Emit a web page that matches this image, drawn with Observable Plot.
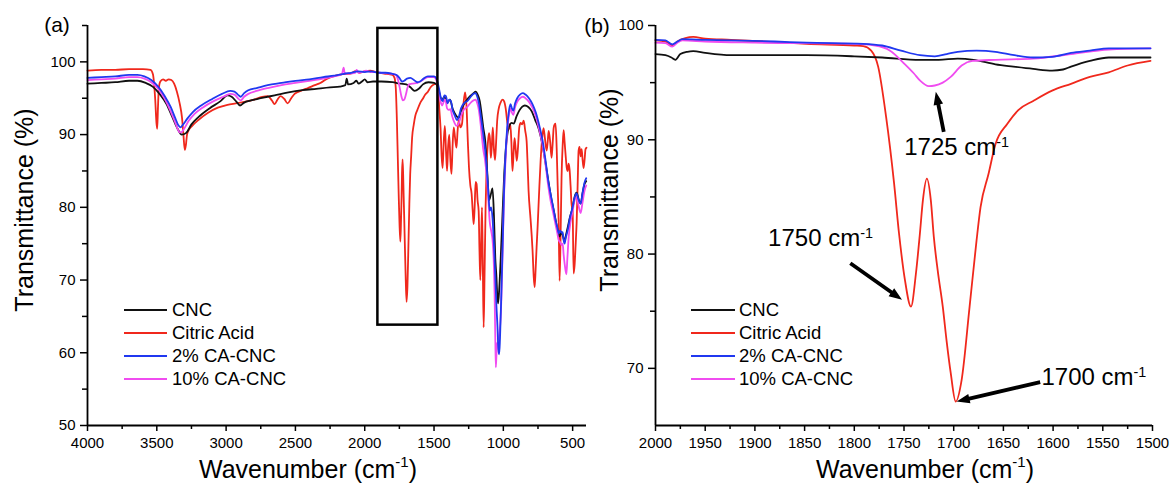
<!DOCTYPE html>
<html><head><meta charset="utf-8">
<script src="https://cdn.jsdelivr.net/npm/d3@7"></script>
<script src="https://cdn.jsdelivr.net/npm/@observablehq/plot@0.6"></script>
<style>
html,body{margin:0;padding:0;background:#fff;}
#fig{position:relative;width:1172px;height:489px;overflow:hidden;font-family:"Liberation Sans",Arial,Helvetica,sans-serif;color:#000;background:#fff;}
#fig svg{position:absolute;top:0;max-width:none;overflow:visible;background:transparent;}
.t{position:absolute;white-space:nowrap;line-height:1;}
.sup{font-size:0.6em;position:relative;top:-0.75em;}
.lg{position:absolute;white-space:nowrap;line-height:1;font-size:18.5px;}
.ln{position:absolute;height:0;border-top-width:2.5px;border-top-style:solid;}
</style></head><body><div id="fig"></div>
<script>
// ---------- series ----------
const seriesNames = ["CNC", "Citric Acid", "2% CA-CNC", "10% CA-CNC"];
const seriesColors = ["#111111", "#f0281c", "#2038f0", "#f04cf0"];

// ---------- panel (a): full spectrum ----------
const cncA = [[4000,97.0],[3900,97.1],[3800,97.2],[3700,97.4],[3640,97.4],[3580,97.1],[3530,96.6],[3480,95.6],[3430,94.2],[3390,92.5],[3350,90.8],[3320,90.0],[3290,90.2],[3250,91.4],[3200,92.4],[3120,93.6],[3040,94.6],[2990,95.4],[2960,95.2],[2925,94.5],[2900,94.0],[2870,94.4],[2820,94.7],[2750,95.0],[2650,95.4],[2550,95.8],[2450,96.1],[2350,96.3],[2250,96.5],[2180,96.6],[2140,96.8],[2130,97.7],[2120,96.9],[2080,97.1],[2060,97.4],[2045,97.0],[2020,97.3],[2000,97.6],[1980,97.2],[1940,97.3],[1880,97.3],[1800,97.2],[1740,97.0],[1700,96.9],[1670,96.5],[1640,96.0],[1610,96.3],[1580,96.9],[1540,97.2],[1500,97.1],[1475,96.7],[1455,95.2],[1440,94.8],[1425,95.2],[1405,94.4],[1385,94.8],[1365,93.5],[1340,92.6],[1320,92.3],[1300,93.6],[1270,94.6],[1240,95.3],[1215,95.7],[1200,95.9],[1185,95.5],[1170,94.6],[1158,93.0],[1145,91.0],[1130,89.0],[1115,84.5],[1102,81.0],[1090,81.8],[1078,82.6],[1068,79.0],[1058,73.0],[1050,70.5],[1044,68.0],[1038,66.8],[1030,68.6],[1020,72.5],[1008,78.0],[995,84.0],[982,88.0],[968,90.4],[955,91.3],[940,91.6],[925,91.5],[905,92.5],[885,93.3],[865,93.8],[845,94.0],[820,93.8],[795,93.2],[770,92.0],[745,90.8],[720,88.8],[695,86.0],[670,83.0],[650,80.8],[630,79.0],[610,77.0],[595,76.0],[580,76.6],[568,75.9],[558,75.3],[548,76.2],[536,77.2],[520,78.6],[500,80.0],[485,81.5],[471,82.0],[455,81.0],[442,80.5],[428,82.0],[414,83.2],[402,83.6]];

const citricA = [[4000,98.8],[3900,98.9],[3800,98.9],[3700,99.0],[3600,99.0],[3545,98.9],[3528,98.3],[3512,95.0],[3502,91.5],[3497,90.8],[3492,93.5],[3485,96.5],[3475,97.3],[3455,97.6],[3435,97.4],[3415,97.6],[3395,97.5],[3375,97.0],[3355,95.9],[3335,94.3],[3318,92.3],[3308,90.0],[3298,87.9],[3290,88.6],[3282,90.0],[3270,90.6],[3245,91.2],[3200,92.0],[3130,93.0],[3060,93.7],[2990,94.1],[2930,94.3],[2870,94.5],[2800,94.8],[2740,95.2],[2700,95.3],[2670,94.7],[2650,94.2],[2630,94.8],[2607,95.3],[2580,94.9],[2557,94.3],[2530,95.0],[2506,95.6],[2450,96.1],[2410,96.4],[2360,96.8],[2320,97.1],[2270,97.7],[2210,98.1],[2160,98.3],[2100,98.4],[2060,98.8],[2040,98.5],[2000,98.7],[1960,98.8],[1920,98.6],[1860,98.4],[1800,98.2],[1785,97.8],[1776,96.4],[1768,92.0],[1761,86.5],[1755,81.8],[1749,77.7],[1743,75.3],[1738,78.3],[1734,81.5],[1731,84.7],[1727,86.6],[1723,84.7],[1719,81.5],[1715,78.5],[1710,74.5],[1704,70.0],[1698,67.0],[1692,69.0],[1685,74.5],[1678,80.5],[1672,84.5],[1665,87.0],[1658,89.6],[1646,91.4],[1635,92.6],[1620,93.4],[1601,94.3],[1582,94.9],[1563,95.5],[1544,95.9],[1525,96.5],[1502,96.9],[1485,97.0],[1472,96.6],[1462,93.5],[1453,90.9],[1445,87.0],[1438,85.4],[1430,89.0],[1422,91.2],[1414,88.0],[1406,85.0],[1398,88.5],[1390,90.0],[1382,86.5],[1374,84.6],[1366,88.5],[1358,91.0],[1348,89.5],[1338,88.2],[1330,90.5],[1322,92.0],[1310,91.0],[1298,91.5],[1286,94.5],[1276,95.8],[1266,94.0],[1256,89.0],[1248,85.5],[1238,83.0],[1229,81.9],[1221,79.5],[1214,77.7],[1207,80.0],[1200,83.5],[1193,83.2],[1186,81.0],[1178,79.5],[1172,74.0],[1166,70.0],[1160,75.0],[1154,80.0],[1148,72.0],[1142,63.5],[1136,70.0],[1128,80.0],[1120,86.0],[1112,88.7],[1104,90.2],[1097,89.5],[1090,86.8],[1083,88.5],[1076,91.0],[1068,88.0],[1060,86.5],[1052,89.0],[1044,92.0],[1034,93.5],[1020,94.4],[1005,94.8],[995,94.6],[983,93.6],[970,91.5],[958,90.8],[950,91.5],[942,89.0],[934,85.0],[926,87.5],[919,89.5],[911,88.0],[903,86.4],[895,88.0],[885,91.0],[875,91.6],[864,91.4],[853,91.9],[842,90.5],[832,89.1],[825,86.0],[818,82.3],[804,78.5],[795,76.0],[789,74.0],[781,70.5],[774,69.0],[767,71.5],[760,74.5],[753,77.2],[742,82.0],[731,86.4],[720,89.5],[710,90.9],[700,89.5],[688,87.8],[680,89.0],[673,90.5],[662,89.0],[652,86.8],[645,88.5],[637,90.9],[630,91.4],[623,91.5],[615,88.0],[608,83.0],[601,78.2],[594,69.9],[587,76.0],[580,84.1],[572,88.5],[565,90.6],[558,89.0],[550,87.0],[543,85.5],[536,85.0],[529,86.0],[522,85.2],[515,83.0],[508,80.5],[500,79.5],[493,70.9],[486,72.0],[478,75.0],[471,78.0],[464,83.0],[457,87.8],[450,88.3],[442,87.0],[435,88.0],[428,86.5],[421,85.4],[414,86.5],[407,88.0],[400,88.2]];

const ca2A = [[4000,97.8],[3900,97.9],[3800,98.0],[3700,98.2],[3640,98.2],[3590,98.0],[3540,97.5],[3490,96.6],[3440,95.2],[3400,93.8],[3370,92.4],[3345,91.3],[3330,91.0],[3310,91.4],[3280,92.2],[3240,93.1],[3180,94.0],[3100,94.9],[3030,95.6],[2970,96.0],[2940,95.9],[2915,95.5],[2895,95.2],[2870,95.7],[2840,96.1],[2780,96.4],[2700,96.8],[2600,97.1],[2500,97.4],[2400,97.6],[2300,97.9],[2220,98.1],[2160,98.3],[2140,98.4],[2100,98.5],[2050,98.7],[2000,98.6],[1950,98.7],[1900,98.5],[1850,98.5],[1800,98.35],[1770,98.2],[1750,97.8],[1730,97.3],[1715,97.4],[1695,97.7],[1670,97.8],[1645,97.5],[1620,97.2],[1600,97.3],[1575,97.7],[1545,98.0],[1500,98.0],[1480,97.6],[1465,96.4],[1450,95.0],[1438,94.6],[1425,95.4],[1414,95.3],[1402,94.3],[1390,94.8],[1378,94.6],[1366,93.4],[1350,92.6],[1335,92.0],[1320,92.5],[1305,93.6],[1285,94.3],[1260,94.6],[1235,95.2],[1215,95.6],[1200,95.7],[1188,95.2],[1176,94.3],[1166,93.0],[1155,91.5],[1145,90.0],[1132,88.0],[1120,85.5],[1108,82.0],[1098,79.5],[1088,80.0],[1078,78.5],[1068,75.0],[1058,70.5],[1050,66.5],[1042,63.5],[1036,60.5],[1030,59.8],[1024,62.0],[1016,67.0],[1006,74.0],[996,81.5],[985,87.0],[972,91.0],[960,93.2],[948,94.2],[938,93.6],[928,93.3],[915,94.3],[900,95.0],[880,95.5],[860,95.7],[840,95.5],[815,95.0],[790,94.2],[765,93.0],[740,91.2],[715,89.0],[695,86.4],[675,83.5],[660,81.9],[640,80.0],[623,78.2],[610,77.2],[601,76.4],[590,76.8],[580,76.5],[572,76.6],[565,75.5],[558,75.0],[550,75.8],[543,76.3],[536,76.8],[520,78.5],[500,80.0],[485,81.4],[471,81.9],[460,81.2],[450,80.7],[442,80.5],[430,81.8],[414,83.4],[402,84.0]];

const ca10A = [[4000,97.5],[3900,97.6],[3800,97.7],[3700,97.9],[3640,97.9],[3590,97.7],[3540,97.2],[3490,96.3],[3440,94.8],[3400,93.2],[3370,91.8],[3350,90.8],[3335,90.3],[3318,90.4],[3300,90.9],[3270,91.9],[3230,92.8],[3170,93.7],[3090,94.6],[3020,95.2],[2970,95.6],[2940,95.5],[2915,95.0],[2895,94.7],[2870,95.2],[2840,95.6],[2780,96.0],[2700,96.4],[2600,96.8],[2500,97.1],[2400,97.4],[2300,97.7],[2220,98.0],[2165,98.3],[2152,99.2],[2144,98.4],[2110,98.4],[2070,98.5],[2058,98.9],[2045,98.5],[2020,98.6],[1990,98.8],[1960,98.6],[1920,98.6],[1880,98.5],[1820,98.4],[1779,98.25],[1764,97.8],[1749,96.6],[1736,95.3],[1725,94.7],[1715,94.8],[1703,95.5],[1692,96.4],[1681,96.9],[1660,97.0],[1620,97.1],[1582,97.5],[1545,97.9],[1500,97.9],[1482,97.4],[1468,96.0],[1455,94.7],[1442,94.0],[1430,94.5],[1418,94.8],[1406,93.6],[1394,93.4],[1382,93.5],[1370,92.6],[1352,91.6],[1338,91.2],[1322,91.5],[1305,92.6],[1285,93.4],[1260,93.8],[1235,94.4],[1215,94.7],[1200,94.8],[1188,94.3],[1176,93.3],[1166,91.8],[1155,89.8],[1145,88.0],[1132,86.5],[1120,84.3],[1108,81.0],[1098,78.0],[1088,76.8],[1078,75.5],[1070,73.0],[1063,68.0],[1058,62.0],[1054,58.0],[1049,60.0],[1044,61.3],[1037,61.5],[1030,62.5],[1022,64.0],[1014,67.5],[1005,74.0],[995,81.5],[984,86.5],[972,90.5],[960,92.6],[948,93.6],[938,93.0],[928,92.7],[915,93.8],[900,94.5],[880,95.0],[860,95.2],[840,95.0],[815,94.5],[790,93.7],[765,92.5],[740,90.6],[715,88.4],[695,85.8],[675,82.8],[660,81.0],[640,79.2],[623,77.6],[610,76.4],[601,75.5],[590,75.2],[580,74.8],[572,75.0],[565,73.5],[558,72.3],[550,71.2],[545,70.8],[538,73.0],[528,76.0],[515,78.0],[500,79.5],[485,81.0],[471,81.4],[460,80.5],[450,79.6],[442,79.2],[430,80.5],[414,82.3],[402,83.0]];

// ---------- panel (b): 2000-1500 zoom ----------
const cncB = [[2000,97.5],[1990,97.4],[1984,97.2],[1980,97.0],[1975,97.5],[1968,97.7],[1962,97.75],[1950,97.6],[1924,97.4],[1900,97.4],[1848,97.4],[1800,97.3],[1772,97.2],[1734,97.0],[1715,97.0],[1696,97.1],[1680,97.0],[1658,96.6],[1640,96.4],[1620,96.2],[1601,96.05],[1590,96.15],[1582,96.4],[1563,96.9],[1544,97.2],[1520,97.2],[1502,97.2]];
const citricB = [[2000,98.7],[1990,98.6],[1983,98.25],[1978,98.6],[1970,98.9],[1962,99.0],[1950,98.85],[1924,98.75],[1880,98.55],[1848,98.4],[1800,98.25],[1791,98.2],[1783,97.8],[1776,96.4],[1768,92.0],[1760,86.2],[1755,81.8],[1749,77.7],[1743,75.4],[1738,78.3],[1734,81.8],[1731,84.7],[1727,86.6],[1723,84.7],[1720,81.5],[1716,78.5],[1711,75.4],[1707,72.3],[1703,69.6],[1698,67.1],[1692,69.0],[1684,75.4],[1677,81.2],[1673,84.1],[1665,87.0],[1658,89.6],[1646,91.4],[1635,92.6],[1620,93.4],[1601,94.3],[1582,94.9],[1563,95.5],[1544,95.9],[1525,96.5],[1502,96.9]];
const ca2B = [[2000,98.75],[1990,98.7],[1983,98.35],[1978,98.6],[1973,98.8],[1950,98.75],[1924,98.7],[1880,98.6],[1848,98.5],[1791,98.4],[1772,98.25],[1753,97.8],[1734,97.4],[1719,97.3],[1707,97.5],[1696,97.7],[1677,97.8],[1658,97.7],[1639,97.4],[1620,97.2],[1601,97.25],[1582,97.6],[1563,97.8],[1544,98.0],[1502,98.0]];
const ca10B = [[2000,98.5],[1990,98.45],[1983,98.15],[1978,98.5],[1973,98.7],[1950,98.6],[1900,98.5],[1800,98.4],[1779,98.25],[1764,97.8],[1749,96.6],[1740,95.8],[1734,95.2],[1725,94.7],[1719,94.75],[1711,95.0],[1703,95.5],[1692,96.5],[1681,96.9],[1658,97.0],[1620,97.1],[1582,97.5],[1544,97.9],[1502,98.0]];

// ---------- axes / ticks ----------
const xDomA = [4000, 400], yDomA = [50, 105];
const xMajorA = [4000, 3500, 3000, 2500, 2000, 1500, 1000, 500];
const xMinorA = [3750, 3250, 2750, 2250, 1750, 1250, 750];
const yMajorA = [50, 60, 70, 80, 90, 100];
const yMinorA = [55, 65, 75, 85, 95, 105];
const xDomB = [2000, 1500], yDomB = [65, 100];
const xMajorB = [2000, 1950, 1900, 1850, 1800, 1750, 1700, 1650, 1600, 1550, 1500];
const xMinorB = [1975, 1925, 1875, 1825, 1775, 1725, 1675, 1625, 1575, 1525];
const yMajorB = [70, 80, 90, 100];
const yMinorB = [75, 85, 95];

// highlighted region in (a)
const boxA = [{x1: 1905, x2: 1472, y1: 63.8, y2: 104.6}];

// annotations in (b)
const annoText = ["1725 cm-1", "1750 cm-1", "1700 cm-1"];
const annoTextX = [1697, 1834, 1559];
const annoTextY = [89.3, 81.4, 69.2];
const arrowFromX = [1710, 1804, 1613];
const arrowFromY = [90.7, 79.2, 68.8];
const arrowToX = [1718, 1752, 1697];
const arrowToY = [94.2, 76.0, 67.1];

const toRows = arr => arr.map(([wn, t]) => ({wn, t}));
const drawOrder = [1, 0, 3, 2];

function axes(xMajor, xMinor, yMajor, yMinor, xDom, yDom) {
  const f = d => String(d);
  return [
    Plot.axisX(xMajor, {tickSize: 6, tickPadding: 6, tickFormat: f, label: null, fontSize: 15, strokeWidth: 1.5}),
    Plot.axisX(xMinor, {tickSize: 4, tickFormat: () => "", label: null, strokeWidth: 1.5}),
    Plot.axisY(yMajor, {tickSize: 7, tickPadding: 5, tickFormat: f, label: null, fontSize: 15, strokeWidth: 1.5}),
    Plot.axisY(yMinor, {tickSize: 5, tickFormat: () => "", label: null, strokeWidth: 1.5}),
    Plot.ruleY([yDom[0]], {x1: xDom[0], x2: xDom[1], stroke: "black", strokeWidth: 1.8}),
    Plot.ruleX([xDom[0]], {y1: yDom[0], y2: yDom[1], stroke: "black", strokeWidth: 1.8})
  ];
}

function lines(sets) {
  return drawOrder.map(i => Plot.line(toRows(sets[i]), {x: "wn", y: "t", stroke: seriesColors[i], strokeWidth: 1.8, curve: "monotone-x"}));
}

const baseStyle = {fontFamily: "'Liberation Sans', Arial, sans-serif", fontSize: "15px", color: "black", background: "transparent", overflow: "visible"};

const svgA = Plot.plot({
  width: 600, height: 489,
  marginLeft: 87, marginRight: 14, marginTop: 25, marginBottom: 64,
  x: {domain: xDomA}, y: {domain: yDomA},
  style: baseStyle,
  marks: [
    ...lines([cncA, citricA, ca2A, ca10A]),
    Plot.rect(boxA, {x1: "x1", x2: "x2", y1: "y1", y2: "y2", fill: "none", stroke: "black", strokeWidth: 2.5}),
    ...axes(xMajorA, xMinorA, yMajorA, yMinorA, xDomA, yDomA)
  ]
});
svgA.style.left = "0px";

// panel (b) geometry (used to orient the filled arrows through Plot's own scales)
const widthB = 576, mlB = 59, mrB = 20, mtB = 25, mbB = 64, heightB = 489;
const sxB = Plot.scale({x: {domain: xDomB, range: [mlB, widthB - mrB]}});
const syB = Plot.scale({y: {domain: yDomB, range: [heightB - mbB, mtB]}});

const annoRows = annoText.map((s, i) => ({s, x: annoTextX[i], y: annoTextY[i]}));
const arrowRows = arrowFromX.map((x1, i) => {
  const dx = sxB.apply(arrowToX[i]) - sxB.apply(x1);
  const dy = syB.apply(arrowToY[i]) - syB.apply(arrowFromY[i]);
  return {x: x1, y: arrowFromY[i], len: Math.hypot(dx, dy), rot: Math.atan2(dx, -dy) * 180 / Math.PI};
});
const filledArrow = {
  draw(context, l) {
    const w = 1.9, h = 13, hw = 4.8;
    context.moveTo(-w, 0);
    context.lineTo(-w, -(l - h));
    context.lineTo(-hw, -(l - h));
    context.lineTo(0, -l);
    context.lineTo(hw, -(l - h));
    context.lineTo(w, -(l - h));
    context.lineTo(w, 0);
    context.closePath();
  }
};

const svgB = Plot.plot({
  width: widthB, height: heightB,
  marginLeft: mlB, marginRight: mrB, marginTop: mtB, marginBottom: mbB,
  x: {domain: xDomB}, y: {domain: yDomB},
  length: {type: "identity"},
  style: baseStyle,
  marks: [
    ...lines([cncB, citricB, ca2B, ca10B]),
    Plot.vector(arrowRows, {x: "x", y: "y", length: "len", rotate: "rot", anchor: "start", shape: filledArrow, fill: "black", stroke: "none"}),
    Plot.text(annoRows, {x: "x", y: "y", text: "s", fontSize: 24, fill: "black"}),
    ...axes(xMajorB, xMinorB, yMajorB, yMinorB, xDomB, yDomB)
  ]
});
svgB.style.left = "596px";

// superscripts for "cm-1" in annotations
svgB.querySelectorAll("text").forEach(t => {
  if (t.children.length === 0 && /cm-1$/.test(t.textContent)) {
    const base = t.textContent.replace(/-1$/, "");
    t.textContent = base;
    const ts = document.createElementNS("http://www.w3.org/2000/svg", "tspan");
    ts.setAttribute("baseline-shift", "super");
    ts.setAttribute("font-size", "60%");
    ts.textContent = "-1";
    t.appendChild(ts);
  }
});

const fig = document.getElementById("fig");
fig.appendChild(svgA);
fig.appendChild(svgB);

function addText(html, cx, cy, size, rotate) {
  const d = document.createElement("div");
  d.className = "t";
  d.innerHTML = html;
  d.style.left = cx + "px";
  d.style.top = cy + "px";
  d.style.fontSize = size + "px";
  d.style.transform = "translate(-50%,-50%)" + (rotate ? " rotate(-90deg)" : "");
  fig.appendChild(d);
}
const xTitle = 'Wavenumber (cm<span class="sup">-1</span>)';
const yTitle = "Transmittance (%)";
addText(xTitle, 308, 469, 25, false);
addText(xTitle, 925, 469, 25, false);
addText(yTitle, 24, 210, 25, true);
addText(yTitle, 609, 190, 25, true);
addText("(a)", 57, 24, 21, false);
addText("(b)", 597, 25, 21, false);

function legend(lineLeft, lineRight, textLeft, rowTops) {
  seriesNames.forEach((name, i) => {
    const l = document.createElement("div");
    l.className = "ln";
    l.style.left = lineLeft + "px";
    l.style.width = (lineRight - lineLeft) + "px";
    l.style.top = (rowTops[i] - 1) + "px";
    l.style.borderTopColor = seriesColors[i];
    fig.appendChild(l);
    const t = document.createElement("div");
    t.className = "lg";
    t.textContent = name;
    t.style.left = textLeft + "px";
    t.style.top = rowTops[i] + "px";
    t.style.transform = "translateY(-50%)";
    fig.appendChild(t);
  });
}
legend(124, 167, 172, [310, 333, 356, 379]);
legend(691, 735, 739, [310, 333, 356, 379]);
</script></body></html>
